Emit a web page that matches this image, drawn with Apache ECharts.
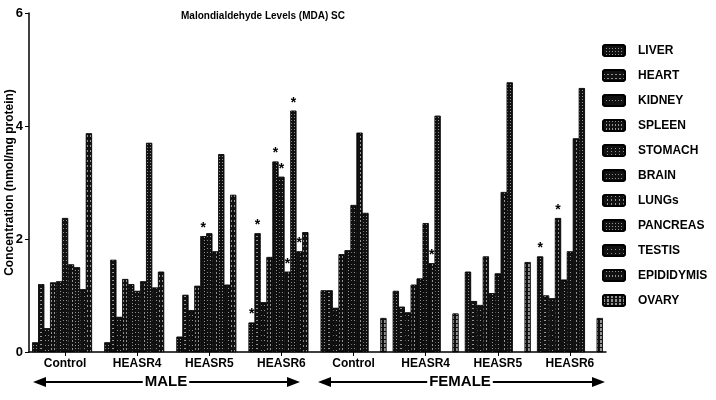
<!DOCTYPE html>
<html><head><meta charset="utf-8">
<script src="https://cdn.jsdelivr.net/npm/echarts@6/dist/echarts.min.js"></script>
<style>html,body{margin:0;padding:0;background:#fff}#c{width:716px;height:400px}</style>
</head><body><div id="c"></div>
<script>
const categories = ['Control','HEASR4','HEASR5','HEASR6','Control','HEASR4','HEASR5','HEASR6'];
const seriesNames = ['LIVER','HEART','KIDNEY','SPLEEN','STOMACH','BRAIN','LUNGs','PANCREAS','TESTIS','EPIDIDYMIS','OVARY'];
const LIVER      = [0.17,0.17,0.27,0.52,1.09,1.08,1.42,1.69];
const HEART      = [1.20,1.63,1.01,2.10,1.09,0.80,0.90,1.00];
const KIDNEY     = [0.42,0.62,0.74,0.88,0.78,0.70,0.83,0.95];
const SPLEEN     = [1.23,1.29,1.17,1.68,1.73,1.19,1.69,2.37];
const STOMACH    = [1.25,1.20,2.05,3.37,1.80,1.30,1.04,1.28];
const BRAIN      = [2.37,1.08,2.10,3.10,2.60,2.28,1.39,1.78];
const LUNGS      = [1.55,1.25,1.78,1.42,3.88,1.57,2.83,3.78];
const PANCREAS   = [1.50,3.70,3.50,4.27,2.46,4.18,4.77,4.67];
const TESTIS     = [1.11,1.14,1.19,1.78,null,null,null,null];
const EPIDIDYMIS = [3.87,1.42,2.78,2.12,null,null,null,null];
const OVARY      = [null,null,null,null,0.60,0.68,1.59,0.60];
const yTicks = [0,2,4,6];
// significance stars: [series index, category index]
const stars = [[4,2],[0,3],[1,3],[4,3],[5,3],[6,3],[7,3],[8,3],[6,5],[0,7],[3,7]];

const values = [LIVER,HEART,KIDNEY,SPLEEN,STOMACH,BRAIN,LUNGS,PANCREAS,TESTIS,EPIDIDYMIS,OVARY];
const W = 'rgba(255,255,255,0.55)';
const decals = [
  {symbol:'rect', symbolSize:1, dashArrayX:[1,2], dashArrayY:[1,2], color:W},
  {symbol:'rect', symbolSize:1, dashArrayX:[2,2], dashArrayY:[1,3], color:W},
  {symbol:'rect', symbolSize:1, dashArrayX:[1,2], dashArrayY:[1,4], color:W},
  {symbol:'rect', symbolSize:1, dashArrayX:[1,2], dashArrayY:[2,2], color:W},
  {symbol:'rect', symbolSize:1, dashArrayX:[1,3], dashArrayY:[1,2], color:W},
  {symbol:'rect', symbolSize:1, dashArrayX:[1,2], dashArrayY:[1,3], color:W},
  {symbol:'rect', symbolSize:1, dashArrayX:[1,3], dashArrayY:[2,2], color:W},
  {symbol:'rect', symbolSize:1, dashArrayX:[1,2], dashArrayY:[1,2], color:W},
  {symbol:'rect', symbolSize:1, dashArrayX:[1,3], dashArrayY:[1,3], color:W},
  {symbol:'rect', symbolSize:1, dashArrayX:[1,2], dashArrayY:[2,3], color:W},
  {symbol:'rect', symbolSize:1, dashArrayX:[2,2], dashArrayY:[3,1], color:W}
];
const FONT = 'Liberation Sans, Arial, sans-serif';

const series = seriesNames.map((name, si) => ({
  name, type:'bar', barGap:'0%', barCategoryGap:'9%',
  itemStyle:{color:'#111', borderColor:'#000', borderWidth:0.6, decal:decals[si]},
  emphasis:{disabled:true},
  data: values[si].map((v, ci) => {
    const star = stars.some(s => s[0]===si && s[1]===ci);
    return star ? {value:v, label:{show:true, position:'top', distance:1, formatter:'*',
      fontSize:14, fontWeight:'bold', color:'#000', fontFamily:FONT}} : v;
  })
}));

const chart = echarts.init(document.getElementById('c'), null, {renderer:'canvas'});
const arrowY = 382;
function arrow(x1, x2, label, cx){
  return [
    {type:'line', shape:{x1:x1+6, y1:arrowY, x2:x2-6, y2:arrowY}, style:{stroke:'#000', lineWidth:2}},
    {type:'polygon', shape:{points:[[x1,arrowY],[x1+13,arrowY-5],[x1+13,arrowY+5]]}, style:{fill:'#000'}},
    {type:'polygon', shape:{points:[[x2,arrowY],[x2-13,arrowY-5],[x2-13,arrowY+5]]}, style:{fill:'#000'}},
    {type:'text', x:cx, y:arrowY, style:{text:label, fill:'#000', font:'bold 15px '+FONT,
      align:'center', verticalAlign:'middle', backgroundColor:'#fff', padding:[0,2]}}
  ];
}
chart.setOption({
  animation:false,
  backgroundColor:'#fff',
  title:{text:'Malondialdehyde Levels (MDA) SC', left:258, top:6, textAlign:'center',
    textStyle:{fontSize:10, fontWeight:'bold', color:'#000', fontFamily:FONT}},
  legend:{orient:'vertical', left:597, top:39, itemWidth:22, itemHeight:11, itemGap:12,
    selectedMode:false, data:seriesNames,
    textStyle:{fontSize:12, fontWeight:'bold', color:'#000', fontFamily:FONT, padding:[0,0,0,8]}},
  grid:{left:29, right:110, top:13, bottom:48, containLabel:false, outerBoundsMode:'none'},
  xAxis:{type:'category', data:categories,
    axisLine:{lineStyle:{color:'#000', width:1.5}},
    axisTick:{show:true, alignWithLabel:true, length:4, lineStyle:{color:'#000'}},
    axisLabel:{fontSize:12, fontWeight:'bold', color:'#000', fontFamily:FONT, margin:6, interval:0}},
  yAxis:{type:'value', min:0, max:6, interval:2,
    name:'Concentration (nmol/mg protein)', nameLocation:'middle', nameGap:13, nameMoveOverlap:false,
    nameTextStyle:{fontSize:12, fontWeight:'bold', color:'#000', fontFamily:FONT},
    axisLine:{show:true, lineStyle:{color:'#000', width:1.5}},
    axisTick:{show:true, length:4, lineStyle:{color:'#000'}},
    axisLabel:{fontSize:13, fontWeight:'bold', color:'#000', fontFamily:FONT, margin:6,
      formatter: v => yTicks.includes(v) ? String(v) : ''},
    splitLine:{show:false}},
  series,
  graphic: [...arrow(33, 300, 'MALE', 166), ...arrow(318, 605, 'FEMALE', 460)]
});
</script></body></html>
